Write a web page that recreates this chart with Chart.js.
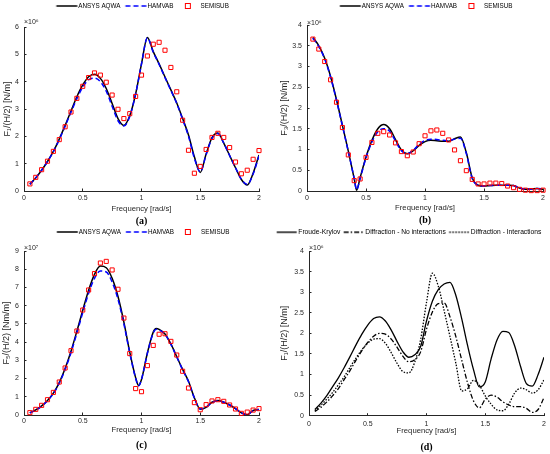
<!DOCTYPE html>
<html>
<head>
<meta charset="utf-8">
<script src="https://cdn.jsdelivr.net/npm/chart.js@4.4.1/dist/chart.umd.min.js"></script>
<style>
  html, body { margin: 0; padding: 0; background: #fff; overflow: hidden; }
  #wrap { position: relative; width: 550px; height: 454px; overflow: hidden; }
  canvas { position: absolute; }
</style>
</head>
<body>
<div id="wrap">
  <canvas id="chart-a" width="275" height="227" style="left:0;top:0"></canvas>
  <canvas id="chart-b" width="275" height="227" style="left:275px;top:0"></canvas>
  <canvas id="chart-c" width="275" height="227" style="left:0;top:227px"></canvas>
  <canvas id="chart-d" width="300" height="227" style="left:260px;top:227px"></canvas>
</div>
<script>
// frequency grid [rad/s]
const freq = [0.05, 0.1, 0.15, 0.2, 0.25, 0.3, 0.35, 0.4, 0.45, 0.5, 0.55, 0.6, 0.65, 0.7, 0.75, 0.8, 0.85, 0.9, 0.95, 1,
              1.05, 1.1, 1.15, 1.2, 1.25, 1.3, 1.35, 1.4, 1.45, 1.5, 1.55, 1.6, 1.65, 1.7, 1.75, 1.8, 1.85, 1.9, 1.95, 2];
const freqB = [0.05, 0.1, 0.15, 0.2, 0.25, 0.3, 0.35, 0.4, 0.42, 0.45, 0.5, 0.55, 0.6, 0.65, 0.7, 0.75, 0.8, 0.85, 0.9, 0.95, 1,
               1.05, 1.1, 1.15, 1.2, 1.25, 1.3, 1.35, 1.4, 1.45, 1.5, 1.55, 1.6, 1.65, 1.7, 1.75, 1.8, 1.85, 1.9, 1.95, 2];
const freqC = [0.05, 0.1, 0.15, 0.2, 0.25, 0.3, 0.35, 0.4, 0.45, 0.5, 0.55, 0.6, 0.65, 0.7, 0.75, 0.8, 0.85, 0.9, 0.95, 0.975, 1,
               1.05, 1.1, 1.125, 1.15, 1.2, 1.25, 1.3, 1.35, 1.4, 1.45, 1.5, 1.55, 1.6, 1.65, 1.7, 1.75, 1.8, 1.85, 1.9, 1.95, 2];
const freqTicks = [0, 0.5, 1, 1.5, 2];

// (a) surge force, x10^6 N/m
const aqwaA = [0.25, 0.48, 0.76, 1.08, 1.45, 1.9, 2.4, 2.93, 3.45, 3.88, 4.18, 4.27, 4.12, 3.75, 3.2, 2.65, 2.4, 2.75, 3.55, 4.65,
               5.62, 5.1, 4.65, 4.17, 3.7, 3.22, 2.65, 2.05, 1.25, 0.68, 1.35, 1.95, 2.12, 1.75, 1.3, 0.85, 0.42, 0.22, 0.65, 1.32];
const hamA = [0.25, 0.48, 0.76, 1.08, 1.44, 1.88, 2.37, 2.88, 3.38, 3.8, 4.07, 4.13, 4.0, 3.65, 3.1, 2.57, 2.38, 2.73, 3.55, 4.65,
              5.6, 5.08, 4.63, 4.15, 3.68, 3.2, 2.62, 2.0, 1.2, 0.7, 1.33, 1.92, 2.1, 1.75, 1.3, 0.85, 0.43, 0.24, 0.62, 1.28];
const semiA = [0.26, 0.5, 0.78, 1.09, 1.45, 1.88, 2.35, 2.89, 3.39, 3.83, 4.15, 4.32, 4.24, 3.98, 3.51, 2.99, 2.65, 2.83, 3.46, 4.24,
               4.94, 5.37, 5.44, 5.15, 4.52, 3.63, 2.59, 1.49, 0.65, 0.9, 1.52, 1.96, 2.11, 1.96, 1.59, 1.06, 0.63, 0.76, 1.16, 1.48];
const yTicksA = [0, 1, 2, 3, 4, 5, 6];

// (b) heave force, x10^6 N/m
const aqwaB = [3.7, 3.5, 3.2, 2.76, 2.2, 1.58, 0.96, 0.3, 0.02, 0.32, 0.82, 1.22, 1.5, 1.6, 1.5, 1.24, 0.99, 0.9, 0.97, 1.1, 1.19,
               1.22, 1.21, 1.2, 1.2, 1.26, 1.3, 0.92, 0.32, 0.14, 0.12, 0.13, 0.14, 0.14, 0.14, 0.13, 0.07, 0.04, 0.05, 0.06, 0.04];
const hamB = [3.68, 3.48, 3.18, 2.74, 2.18, 1.57, 0.95, 0.3, 0.03, 0.3, 0.8, 1.18, 1.43, 1.5, 1.44, 1.2, 0.97, 0.9, 0.98, 1.13, 1.22,
              1.25, 1.24, 1.22, 1.21, 1.25, 1.27, 0.9, 0.3, 0.14, 0.12, 0.13, 0.14, 0.14, 0.14, 0.13, 0.08, 0.05, 0.05, 0.06, 0.05];
const semiB = [3.66, 3.42, 3.12, 2.68, 2.14, 1.53, 0.87, 0.25, 0.29, 0.81, 1.17, 1.39, 1.43, 1.35, 1.16, 0.95, 0.85, 0.94, 1.14, 1.33,
               1.45, 1.47, 1.39, 1.23, 0.99, 0.73, 0.49, 0.28, 0.17, 0.17, 0.19, 0.19, 0.18, 0.12, 0.08, 0.04, 0.02, 0.01, 0.01, 0.02];
const yTicksB = [0, 0.5, 1, 1.5, 2, 2.5, 3, 3.5, 4];

// (c) pitch moment, x10^7 Nm/m
const aqwaC = [0.12, 0.28, 0.5, 0.8, 1.2, 1.78, 2.55, 3.5, 4.6, 5.75, 6.85, 7.72, 8.17, 8.08, 7.5, 6.5, 5.1, 3.45, 2.05, 1.62, 1.95,
               3.4, 4.55, 4.75, 4.7, 4.45, 3.9, 3.2, 2.5, 1.85, 0.95, 0.32, 0.42, 0.7, 0.8, 0.7, 0.55, 0.35, 0.12, 0.02, 0.25, 0.3];
const hamC = [0.12, 0.27, 0.48, 0.78, 1.17, 1.74, 2.5, 3.42, 4.5, 5.62, 6.68, 7.5, 7.9, 7.85, 7.3, 6.35, 5.0, 3.4, 2.02, 1.6, 1.95,
              3.38, 4.5, 4.7, 4.66, 4.42, 3.88, 3.18, 2.48, 1.82, 0.93, 0.33, 0.43, 0.68, 0.78, 0.7, 0.55, 0.35, 0.12, 0.03, 0.24, 0.3];
const semiC = [0.13, 0.31, 0.53, 0.84, 1.24, 1.81, 2.58, 3.53, 4.61, 5.76, 6.86, 7.76, 8.34, 8.43, 7.96, 6.9, 5.32, 3.37, 1.45, 1.28,
               2.71, 3.82, 4.43, 4.46, 4.04, 3.29, 2.4, 1.48, 0.68, 0.29, 0.57, 0.77, 0.84, 0.75, 0.55, 0.33, 0.09, 0.16, 0.27, 0.35];
const yTicksC = [0, 1, 2, 3, 4, 5, 6, 7, 8, 9];

// (d) surge force components, x10^6 N/m
const froudeD = [0.15, 0.3, 0.48, 0.7, 0.92, 1.17, 1.44, 1.72, 1.98, 2.2, 2.36, 2.4, 2.3, 2.08, 1.8, 1.55, 1.42, 1.48, 1.68, 2.3,
                 2.78, 3.06, 3.2, 3.24, 2.92, 2.35, 1.7, 1.12, 0.7, 0.82, 1.38, 1.84, 2.05, 2.02, 1.7, 1.2, 0.78, 0.72, 1.0, 1.42];
const diffNoD = [0.1, 0.2, 0.33, 0.48, 0.66, 0.88, 1.1, 1.35, 1.58, 1.78, 1.93, 2.0, 1.98, 1.86, 1.66, 1.44, 1.31, 1.36, 1.55, 2.1,
                 2.52, 2.72, 2.74, 2.4, 1.92, 1.35, 0.79, 0.36, 0.19, 0.4, 0.5, 0.45, 0.34, 0.26, 0.22, 0.22, 0.18, 0.08, 0.15, 0.44];
const diffIntD = [0.12, 0.25, 0.4, 0.56, 0.75, 0.95, 1.18, 1.4, 1.6, 1.76, 1.86, 1.87, 1.76, 1.53, 1.27, 1.07, 1.04, 1.3, 1.85, 2.75,
                  3.46, 3.15, 2.55, 1.92, 1.27, 0.6, 0.66, 0.86, 0.74, 0.48, 0.28, 0.14, 0.12, 0.28, 0.55, 0.67, 0.63, 0.55, 0.63, 0.87];
const yTicksD = [0, 0.5, 1, 1.5, 2, 2.5, 3, 3.5, 4];

const FONT = 'Liberation Sans, Arial, Helvetica, sans-serif';
const INK = '#262626';
Chart.defaults.font.family = FONT;

function pts(xs, ys) {
    return xs.map((x, i) => ({ x: x, y: ys[i] }));
}

function lineSet(label, xs, ys, color, dash, width, order) {
    return {
        label, data: pts(xs, ys), borderColor: color, borderWidth: width, borderDash: dash,
        pointRadius: 0, fill: false, cubicInterpolationMode: 'monotone', order
    };
}

function squareSet(label, xs, ys) {
    return {
        label, data: pts(xs, ys), showLine: false, pointStyle: 'rect', pointRadius: 2.9,
        pointBorderColor: '#ff0000', pointBackgroundColor: 'rgba(255,255,255,0)', pointBorderWidth: 1,
        clip: false, order: 0
    };
}

// little legend sample drawn into an offscreen canvas, used as the point style
function mark(g, st) {
    const endRel = g.boxW / 2 + g.legendSize / 2 - g.markGap;
    const startRel = endRel - g.markLen;
    const half = Math.ceil(Math.max(-startRel, endRel)) + 1;
    const c = document.createElement('canvas');
    c.width = half * 2;
    c.height = 8;
    const ctx = c.getContext('2d');
    ctx.strokeStyle = st.color;
    if (st.square) {
        ctx.lineWidth = 1;
        ctx.strokeRect(half - 1.5, 1.5, 5, 5);
    } else {
        ctx.lineWidth = st.width;
        ctx.setLineDash(st.dash);
        ctx.beginPath();
        ctx.moveTo(half + startRel, 4);
        ctx.lineTo(half + endRel, 4);
        ctx.stroke();
    }
    return c;
}

const plainNum = v => String(v);

function panel(id, g, p) {
    const scales = {
        x: {
            type: 'linear', min: 0, max: 2,
            afterBuildTicks: s => { s.ticks = freqTicks.map(v => ({ value: v })); },
            afterFit: s => { s.height = g.xH; },
            border: { display: true, color: INK, width: 1 },
            grid: { drawOnChartArea: false, drawTicks: true, tickLength: -2.5, color: INK },
            ticks: { padding: g.tickPad, color: INK, font: { size: 7 }, maxRotation: 0, autoSkip: false, callback: plainNum },
            title: { display: true, text: 'Frequency [rad/s]', color: INK, font: { size: 7.7 }, padding: { top: 0, bottom: g.xTitlePad } }
        },
        y: {
            type: 'linear', min: p.yTicks[0], max: p.yTicks[p.yTicks.length - 1],
            afterBuildTicks: s => { s.ticks = p.yTicks.map(v => ({ value: v })); },
            afterFit: s => { s.width = g.yW; },
            border: { display: true, color: INK, width: 1 },
            grid: { drawOnChartArea: false, drawTicks: true, tickLength: -2.5, color: INK },
            ticks: { padding: 7.5, color: INK, font: { size: 7 }, autoSkip: false, callback: plainNum },
            title: { display: true, text: p.yTitle, color: INK, font: { size: 9 }, padding: { top: g.yTitlePad, bottom: 0 } }
        },
        // empty top axis: only carries the x10^n multiplier
        xExp: {
            type: 'linear', axis: 'x', position: 'top', min: 0, max: 1,
            grid: { display: false }, border: { display: false }, ticks: { display: false },
            afterFit: s => { s.height = g.topH; },
            title: { display: true, text: p.expo, align: 'start', color: INK, font: { size: 7 }, padding: { top: g.expoPad, bottom: 0 } }
        }
    };
    if (g.rightW) {
        scales.yPad = {
            type: 'linear', axis: 'y', position: 'right', min: 0, max: 1,
            grid: { display: false }, border: { display: false }, ticks: { display: false },
            afterFit: s => { s.width = g.rightW; }
        };
    }

    new Chart(document.getElementById(id), {
        type: 'line',
        data: { datasets: p.datasets },
        options: {
            responsive: false,
            animation: false,
            events: [],
            layout: { padding: { left: g.padL, right: g.padR, top: 0, bottom: 0 } },
            plugins: {
                legend: {
                    position: 'top', align: g.legendAlign, fullSize: g.legendFull,
                    labels: {
                        usePointStyle: true, pointStyleWidth: g.boxW, padding: g.legendPad,
                        font: { size: g.legendSize },
                        generateLabels: () => p.legend.map((it, i) => ({
                            text: it.text, pointStyle: mark(g, it), fillStyle: 'rgba(0,0,0,0)',
                            strokeStyle: 'rgba(0,0,0,0)', lineWidth: 0, fontColor: '#000', hidden: false, datasetIndex: i
                        }))
                    }
                },
                title: {
                    display: true, text: p.caption, position: 'bottom', fullSize: false, color: '#000',
                    font: { family: 'Liberation Serif, Times New Roman, serif', size: 10, weight: 'bold' },
                    padding: { top: 0, bottom: g.capPad }
                },
                tooltip: { enabled: false }
            },
            scales
        }
    });
}

const threeLegend = [
    { text: 'ANSYS AQWA', color: '#000', width: 1.5, dash: [] },
    { text: 'HAMVAB', color: '#0000ff', width: 1.5, dash: [5, 3] },
    { text: 'SEMISUB', color: '#ff0000', square: true }
];

// Surge force
panel('chart-a', {
    padL: 1, padR: 16, yW: 23, yTitlePad: 1.1, legendAlign: 'center', legendFull: false, legendSize: 6.3,
    boxW: 21, legendPad: 2.85, markLen: 21, markGap: 1, topH: 7.85, expoPad: -0.85,
    xH: 24, xTitlePad: 1.4, tickPad: 5, capPad: 0
}, {
    datasets: [
        squareSet('SEMISUB', freq, semiA),
        lineSet('HAMVAB', freq, hamA, '#0000ff', [5, 3], 1.5, 1),
        lineSet('ANSYS AQWA', freq, aqwaA, '#000', [], 1.5, 2)
    ],
    legend: threeLegend, yTicks: yTicksA, yTitle: 'F\u2081/(H/2) [N/m]', expo: '\u00d710\u2076', caption: '(a)'
});

// Heave force
panel('chart-b', {
    padL: 1, padR: 6, yW: 31, yTitlePad: 3.6, legendAlign: 'center', legendFull: false, legendSize: 6.3,
    boxW: 21, legendPad: 2.85, markLen: 21, markGap: 1, topH: 5.85, expoPad: -0.35,
    xH: 23, xTitlePad: 1.4, tickPad: 5, capPad: 1
}, {
    datasets: [
        squareSet('SEMISUB', freq, semiB),
        lineSet('HAMVAB', freqB, hamB, '#0000ff', [5, 3], 1.5, 1),
        lineSet('ANSYS AQWA', freqB, aqwaB, '#000', [], 1.5, 2)
    ],
    legend: threeLegend, yTicks: yTicksB, yTitle: 'F\u2083/(H/2) [N/m]', expo: '\u00d710\u2076', caption: '(b)'
});

// Pitch moment
panel('chart-c', {
    padL: 1, padR: 16, yW: 23, yTitlePad: 0.6, legendAlign: 'center', legendFull: false, legendSize: 6.3,
    boxW: 22, legendPad: 1.85, markLen: 21, markGap: 1, topH: 5.85, expoPad: -1.65,
    xH: 24.3, xTitlePad: 4.4, tickPad: 4.8, capPad: 2.7
}, {
    datasets: [
        squareSet('SEMISUB', freq, semiC),
        lineSet('HAMVAB', freqC, hamC, '#0000ff', [5, 3], 1.5, 1),
        lineSet('ANSYS AQWA', freqC, aqwaC, '#000', [], 1.5, 2)
    ],
    legend: threeLegend, yTicks: yTicksC, yTitle: 'F\u2085/(H/2) [Nm/m]', expo: '\u00d710\u2077', caption: '(c)'
});

// Force components
panel('chart-d', {
    padL: 13.3, padR: 0, rightW: 16, yW: 35.7, yTitlePad: 6.3, legendAlign: 'start', legendFull: true, legendSize: 6.7,
    boxW: 19.8, legendPad: 1.85, markLen: 20, markGap: 1.6, topH: 5.45, expoPad: -2.05,
    xH: 25.3, xTitlePad: 5.4, tickPad: 6.8, capPad: 1
}, {
    datasets: [
        lineSet('Froude-Krylov', freq, froudeD, '#000', [], 1.3, 0),
        lineSet('Diffraction - No interactions', freq, diffNoD, '#000', [5, 2, 1.5, 2], 1.3, 1),
        lineSet('Diffraction - Interactions', freq, diffIntD, '#000', [1.5, 1.5], 1.3, 2)
    ],
    legend: [
        { text: 'Froude-Krylov', color: '#000', width: 1.4, dash: [] },
        { text: 'Diffraction - No interactions', color: '#000', width: 1.4, dash: [5, 2, 1.5, 2] },
        { text: 'Diffraction - Interactions', color: '#000', width: 1.4, dash: [1.5, 1.5] }
    ],
    yTicks: yTicksD, yTitle: 'F\u2081/(H/2) [N/m]', expo: '\u00d710\u2076', caption: '(d)'
});
</script>
</body>
</html>
